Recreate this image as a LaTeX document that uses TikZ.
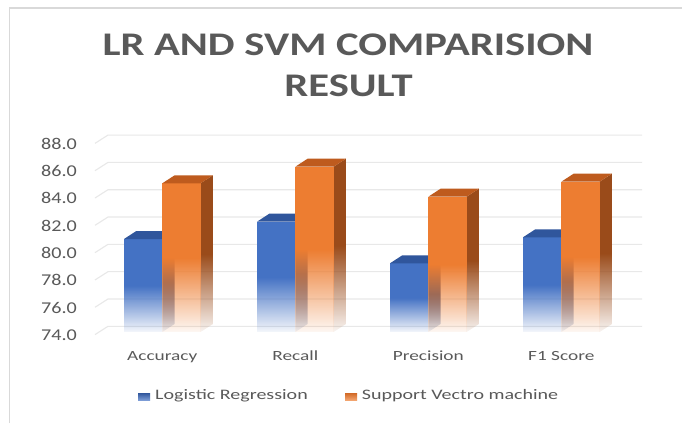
\documentclass[tikz,border=0pt]{standalone}
\usepackage{fontspec}
\usepackage{graphicx}
\setmainfont{Carlito}
\usetikzlibrary{fadings}
\definecolor{txt}{HTML}{595959}
\definecolor{gridc}{HTML}{E8E8E8}
\definecolor{framec}{HTML}{D9D9D9}
\definecolor{bfront}{HTML}{4472C4}
\definecolor{btop}{HTML}{30569C}
\definecolor{bside}{HTML}{2C4F8C}
\definecolor{ofront}{HTML}{ED7D31}
\definecolor{otop}{HTML}{BE5B1E}
\definecolor{oside}{HTML}{9A4B1A}
\tikzfading[name=barfade, top color=transparent!0, bottom color=transparent!95, middle color=transparent!0]
\newcommand\hs[2]{\scalebox{#1}[1]{#2}}
% x, top y, front, top, side
\newcommand\tbar[5]{%
  \path[fill=#5, path fading=barfade] (#1+38.3,#2) -- (#1+50.6,#2-8) -- (#1+50.6,324) -- (#1+38.3,332) -- cycle;
  \path[fill=#3, path fading=barfade] (#1,#2) rectangle (#1+38.3,332);
  \path[fill=#4] (#1,#2) -- (#1+12.3,#2-8) -- (#1+50.6,#2-8) -- (#1+38.3,#2) -- cycle;
}
\tikzset{
  ticklbl/.style={anchor=base east, text=txt, inner sep=0pt, font=\fontsize{16.5}{20}\selectfont},
  catlbl/.style={anchor=base, text=txt, inner sep=0pt, font=\fontsize{14}{17}\selectfont},
  leglbl/.style={anchor=base west, text=txt, inner sep=0pt, font=\fontsize{14.5}{17}\selectfont},
  titlelbl/.style={anchor=base, text=txt, inner sep=0pt, font=\fontsize{33}{40}\selectfont\bfseries},
  legmark/.style={minimum width=12pt, minimum height=7pt, inner sep=0pt, draw=none},
}
\begin{document}
\begin{tikzpicture}[x=1pt,y=-1pt]
\useasboundingbox[fill=white] (0,0) rectangle (682,423);
% frame
\draw[framec, line width=1.2pt] (9.5,423) -- (9.5,8) -- (682,8);
% title
\node[titlelbl] (t1) at (348,55) {\hs{1.29}{LR AND SVM COMPARISION}};
\node[titlelbl] (t2) at (348.5,96.7) {\hs{1.29}{RESULT}};
% grid and ticks
\foreach \v [count=\i from 0] in {74.0,76.0,78.0,80.0,82.0,84.0,86.0,88.0}{
  \pgfmathsetmacro\yy{326.3-27.32*\i}
  \draw[gridc, line width=1.1pt] (95,\yy+8.3) -- (108,\yy) -- (642,\yy);
  \node[ticklbl] (tick\i) at (77,\yy+14.2) {\hs{1.22}{\v}};
}
% bars
\tbar{124}{239}{bfront}{btop}{bside}
\tbar{162.3}{183.3}{ofront}{otop}{oside}
\tbar{257}{221.7}{bfront}{btop}{bside}
\tbar{295.3}{166.7}{ofront}{otop}{oside}
\tbar{390}{263.3}{bfront}{btop}{bside}
\tbar{428.3}{196.7}{ofront}{otop}{oside}
\tbar{523}{237.3}{bfront}{btop}{bside}
\tbar{561.3}{181.7}{ofront}{otop}{oside}
% category labels
\node[catlbl] (c1) at (162.3,360.7) {\hs{1.38}{Accuracy}};
\node[catlbl] (c2) at (295.3,360.7) {\hs{1.38}{Recall}};
\node[catlbl] (c3) at (428.3,360.7) {\hs{1.38}{Precision}};
\node[catlbl] (c4) at (561.3,360.7) {\hs{1.38}{F1 Score}};
% legend
\node[legmark, top color=btop, bottom color=bfront!70] (m1) at (144,396.5) {};
\node[leglbl] (l1) at (155,399.3) {\hs{1.38}{Logistic Regression}};
\node[legmark, top color=otop!60!ofront, bottom color=ofront!70] (m2) at (351.2,396.5) {};
\node[leglbl] (l2) at (361.7,399.3) {\hs{1.38}{Support Vectro machine}};
\end{tikzpicture}
\end{document}
